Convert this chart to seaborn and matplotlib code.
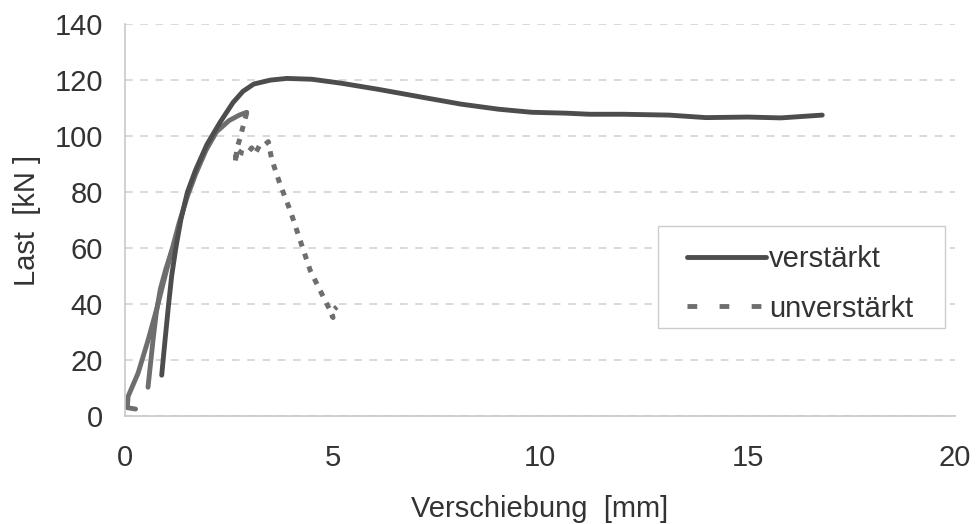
import numpy as np
import pandas as pd
import matplotlib
matplotlib.use('Agg')
import matplotlib.pyplot as plt
import seaborn as sns
from matplotlib.lines import Line2D
from matplotlib.patches import Rectangle

# verstärkt (dark solid curve)
verst_x = [0.88, 0.96, 1.04, 1.12, 1.22, 1.34, 1.5, 1.7, 1.97, 2.29, 2.6, 2.84,
           3.1, 3.5, 3.9, 4.5, 5.2, 6.1, 7.3, 8.1, 9.0, 9.8, 10.6, 11.2, 12.0,
           13.1, 14.0, 15.0, 15.8, 16.3, 16.8]
verst_y = [14.6, 27, 39, 50, 60, 70, 80, 88, 97, 105, 112, 116,
           118.6, 120, 120.6, 120.3, 118.9, 116.7, 113.5, 111.4, 109.6, 108.5,
           108.2, 107.8, 107.8, 107.5, 106.6, 106.8, 106.5, 107.0, 107.5]

# unverstärkt, loading branch (solid looking)
unv_load_x = [0.25, 0.05, 0.07, 0.31, 0.55, 0.77, 0.96, 1.12, 1.3, 1.5, 1.7,
              1.95, 2.2, 2.5, 2.75, 2.93]
unv_load_y = [2.5, 3, 7, 15.3, 27, 38.8, 50, 59, 69, 78.5, 86.5, 95, 101.5,
              105.5, 107.5, 108.5]

# unverstärkt, reloading branch
unv_reload_x = [0.55, 0.62, 0.67, 0.75, 0.85, 0.98, 1.12]
unv_reload_y = [10.3, 20, 27, 37, 45.5, 52.5, 59]

# unverstärkt, after peak (dotted)
unv_post_x = [2.93, 2.85, 2.77, 2.7, 2.65, 2.69, 2.8, 2.93, 3.05, 3.13, 3.25,
              3.37, 3.45, 3.53, 3.73, 3.98, 4.22, 4.46, 4.7, 4.94, 5.01, 4.95,
              5.1]
unv_post_y = [108.3, 104, 99.3, 96, 90.4, 95.3, 94, 93.6, 95.8, 93.6, 97,
              97, 98, 91.8, 82.9, 73.3, 62.6, 52, 44.8, 37.7, 35.2, 37, 39]

x_ticks = [0, 5, 10, 15, 20]
y_ticks = [0, 20, 40, 60, 80, 100, 120, 140]

sns.set_style('white')
plt.rcParams['font.family'] = ['Liberation Sans', 'DejaVu Sans']

fig, ax = plt.subplots(figsize=(9.78, 5.24), dpi=100)
fig.subplots_adjust(left=0.128, right=0.9765, top=0.954, bottom=0.206)

dark = '#4d4d4d'
light = '#6e6e6e'

sns.lineplot(x=unv_load_x, y=unv_load_y, sort=False, estimator=None,
             color=light, linewidth=3.5, ax=ax)
sns.lineplot(x=unv_reload_x, y=unv_reload_y, sort=False, estimator=None,
             color=light, linewidth=3.5, ax=ax)
sns.lineplot(x=unv_post_x, y=unv_post_y, sort=False, estimator=None,
             color=light, linewidth=3.6, ax=ax)
ax.lines[-1].set_dashes((1.2, 1.5))
sns.lineplot(x=verst_x, y=verst_y, sort=False, estimator=None,
             color=dark, linewidth=3.5, ax=ax)

ax.set_xlim(0, 20)
ax.set_ylim(0, 140)
ax.set_xticks(x_ticks)
ax.set_yticks(y_ticks)
ax.tick_params(labelsize=21, colors='#333333', length=6, width=1,
               color='#c8c8c8')
ax.tick_params(axis='y', pad=10)
ax.tick_params(axis='x', pad=14)
ax.yaxis.grid(True, linestyle=(0, (5, 5)), color='#cfcfcf', linewidth=1.1)
ax.set_axisbelow(True)
for side in ['top', 'right']:
    ax.spines[side].set_visible(False)
for side in ['left', 'bottom']:
    ax.spines[side].set_color('#c8c8c8')
    ax.spines[side].set_linewidth(1.2)

ax.set_xlabel('Verschiebung  [mm]', fontsize=21, color='#333333', labelpad=17)
ax.set_ylabel('Last  [kN ]', fontsize=21, color='#333333', labelpad=10)

# legend frame drawn separately so its padding matches the original
ax.add_patch(Rectangle((0.642, 0.2245), 0.3458, 0.260, transform=ax.transAxes,
                       facecolor='white', edgecolor='#cccccc', linewidth=1.0,
                       zorder=4, clip_on=False))
handles = [Line2D([], [], color=dark, linewidth=3.5),
           Line2D([], [], color=light, linewidth=3.5, dashes=(2.0, 4.6))]
leg = ax.legend(handles, ['verstärkt', 'unverstärkt'], loc='upper left',
                bbox_to_anchor=(0.677, 0.437), fontsize=21, frameon=False,
                handlelength=2.7, handletextpad=0.1, labelspacing=0.75,
                borderpad=0, borderaxespad=0)
leg.set_zorder(5)
for t in leg.get_texts():
    t.set_color('#333333')

fig.savefig('out.png', dpi=100)
